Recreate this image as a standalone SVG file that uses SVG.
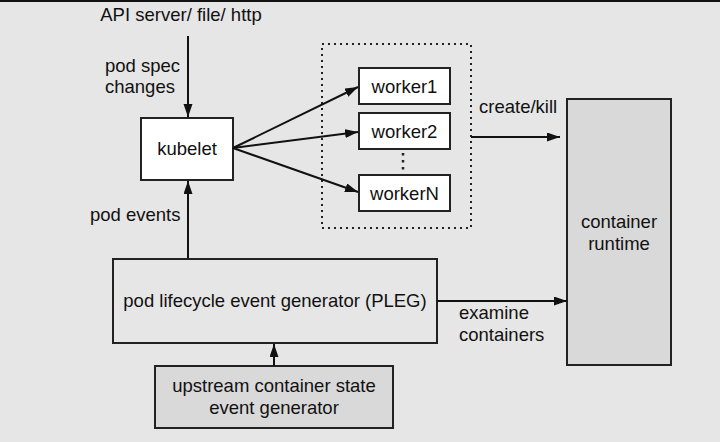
<svg xmlns="http://www.w3.org/2000/svg" width="720" height="442" viewBox="0 0 720 442">
<style>
text{font-family:"Liberation Sans",Arial,sans-serif;font-size:18.5px;fill:#111}
.box{stroke:#222;stroke-width:2}
.w{fill:#fff}
.g{fill:#d9d9d9}
.b{fill:#e6e6e6}
.c{stroke:#111;stroke-width:2;fill:none}
.m{text-anchor:middle}
</style>
<defs>
<marker id="ah" markerUnits="userSpaceOnUse" markerWidth="14" markerHeight="10" refX="13" refY="4.5" orient="auto">
<path d="M0,0 L13,4.5 L0,9 z" fill="#111"/>
</marker>
</defs>
<rect x="0" y="0" width="720" height="442" fill="#e6e6e6"/>
<rect x="0" y="0" width="720" height="2" fill="#111"/>
<text x="181" y="21" class="m">API server/ file/ http</text>
<text x="105" y="72">pod spec</text>
<text x="105" y="93">changes</text>
<text x="90" y="221">pod events</text>
<text x="479" y="113">create/kill</text>
<text x="459" y="319">examine</text>
<text x="459" y="341">containers</text>
<g id="workers-group">
<rect x="322" y="44" width="149" height="184" fill="none" stroke="#222" stroke-width="2" stroke-dasharray="2,4"/>
<line x1="403" y1="153" x2="403" y2="172" stroke="#222" stroke-width="2.5" stroke-dasharray="2.5,4.5"/>
</g>
<g id="kubelet"><rect class="box w" x="141" y="118" width="92" height="62"/><text x="187" y="155" class="m">kubelet</text></g>
<g id="worker1"><rect class="box w" x="359" y="68" width="91" height="36"/><text x="404.5" y="93" class="m">worker1</text></g>
<g id="worker2"><rect class="box w" x="359" y="113" width="91" height="36"/><text x="404.5" y="138" class="m">worker2</text></g>
<g id="workerN"><rect class="box w" x="359" y="175" width="91" height="36"/><text x="404.5" y="200" class="m">workerN</text></g>
<g id="pleg"><rect class="box b" x="113" y="259" width="324" height="84"/><text x="275" y="307" class="m">pod lifecycle event generator (PLEG)</text></g>
<g id="upstream"><rect class="box g" x="155" y="366" width="238" height="62"/><text x="274" y="392" class="m">upstream container state</text><text x="274" y="414" class="m">event generator</text></g>
<g id="runtime"><rect class="box g" x="567" y="99" width="104" height="266"/><text x="619" y="228" class="m">container</text><text x="619" y="250" class="m">runtime</text></g>
<g id="connectors">
<line class="c" x1="188" y1="36" x2="188" y2="117" marker-end="url(#ah)"/>
<line class="c" x1="188" y1="258" x2="188" y2="181" marker-end="url(#ah)"/>
<line class="c" x1="233" y1="148" x2="358" y2="87" marker-end="url(#ah)"/>
<line class="c" x1="233" y1="148" x2="358" y2="132" marker-end="url(#ah)"/>
<line class="c" x1="233" y1="148" x2="358" y2="192" marker-end="url(#ah)"/>
<line class="c" x1="471" y1="137" x2="560" y2="137" marker-end="url(#ah)"/>
<line class="c" x1="437" y1="301" x2="567" y2="301" marker-end="url(#ah)"/>
<line class="c" x1="274" y1="366" x2="274" y2="344" marker-end="url(#ah)"/>
</g>
</svg>
